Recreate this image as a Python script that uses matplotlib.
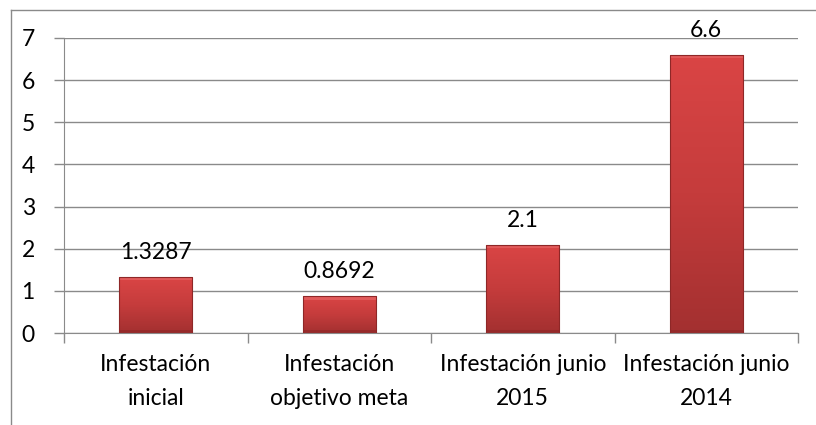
import numpy as np
import matplotlib.pyplot as plt
from matplotlib.colors import LinearSegmentedColormap
from matplotlib.lines import Line2D

categorias = ['Infestación\ninicial', 'Infestación\nobjetivo meta',
              'Infestación junio\n2015', 'Infestación junio\n2014']
valores = [1.3287, 0.8692, 2.1, 6.6]
etiquetas = ['1.3287', '0.8692', '2.1', '6.6']

plt.rcParams['font.family'] = ['Lato', 'DejaVu Sans']
tam = 16.5

fig = plt.figure(figsize=(8.16, 4.25), dpi=100)
ax = fig.add_axes([64 / 816, 1 - 333 / 425, (798 - 64) / 816, (333 - 38) / 425])

gris = '#8a8a8a'
x = np.arange(len(categorias))
barras = ax.bar(x, valores, width=0.4, color='none', edgecolor='#8e2727', linewidth=0.8, zorder=3)

# degradado rojo dentro de cada barra
cmap = LinearSegmentedColormap.from_list('rojo', ['#a33030', '#c53c3c', '#da4545'])
grad = np.linspace(0, 1, 256).reshape(-1, 1)
for b in barras:
    x0, y0 = b.get_x(), b.get_y()
    w, h = b.get_width(), b.get_height()
    im = ax.imshow(grad, cmap=cmap, origin='lower', aspect='auto',
                   extent=[x0, x0 + w, y0, y0 + h], zorder=2)
    im.set_clip_path(b)
    # bisel: brillo arriba, sombra abajo
    ax.fill_between([x0, x0 + w], y0 + h - 0.08, y0 + h, color='#e86a6a', alpha=0.6,
                    zorder=2.5, linewidth=0)
    ax.fill_between([x0, x0 + w], y0, y0 + 0.07, color='#8a2525', alpha=0.5,
                    zorder=2.5, linewidth=0)

for xi, v, t in zip(x, valores, etiquetas):
    ax.text(xi, v + 0.58, t, ha='center', va='center', fontsize=tam, color='black')

ax.set_xlim(-0.5, 3.5)
ax.set_ylim(0, 7)
ax.set_yticks(range(0, 8))
ax.yaxis.grid(True, color=gris, linewidth=1)
ax.set_axisbelow(True)

ax.set_xticks(x)
ax.set_xticklabels(categorias, fontsize=tam, linespacing=1.75)
ax.set_xticks(np.arange(-0.5, 4, 1), minor=True)
ax.tick_params(axis='x', which='major', length=0, pad=15)
ax.tick_params(axis='x', which='minor', length=7, color=gris, width=1, direction='out')
ax.tick_params(axis='y', length=7, color=gris, width=1, labelsize=tam, pad=14)

for lado in ['top', 'right']:
    ax.spines[lado].set_visible(False)
ax.spines['left'].set_color(gris)
ax.spines['bottom'].set_color(gris)

# marco exterior del gráfico (recortado)
fig.add_artist(Line2D([11 / 816, 11 / 816], [0, 1 - 10 / 425], color=gris, linewidth=1))
fig.add_artist(Line2D([11 / 816, 1], [1 - 10 / 425, 1 - 10 / 425], color=gris, linewidth=1))

fig.savefig('out.png', dpi=100)
